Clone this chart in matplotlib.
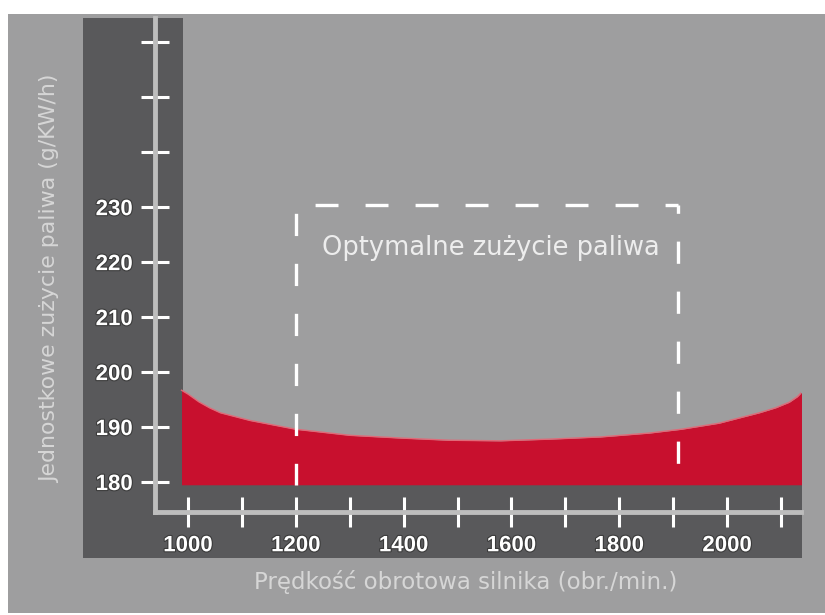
import matplotlib
matplotlib.use('Agg')
import matplotlib.pyplot as plt
from matplotlib.patches import Rectangle
import matplotlib.patheffects as pe

# Engine speed (rpm) and specific fuel consumption (g/kWh)
rpm = [988, 1000, 1020, 1040, 1060, 1115, 1200, 1300, 1395, 1485, 1580, 1670, 1765, 1855, 1915, 1985, 2060, 2090, 2115, 2130, 2139]
consumption = [196.7, 196.0, 194.6, 193.5, 192.6, 191.2, 189.6, 188.5, 188.0, 187.6, 187.5, 187.8, 188.2, 188.9, 189.6, 190.7, 192.6, 193.5, 194.5, 195.5, 196.4]
base_level = 179.5

# Optimal range box
opt_x = [1200, 1909]
opt_y = [179.5, 230.4]
opt_label = 'Optymalne zużycie paliwa'

# Ticks
x_ticks = [1000, 1100, 1200, 1300, 1400, 1500, 1600, 1700, 1800, 1900, 2000, 2100]
x_tick_labels = ['1000', '', '1200', '', '1400', '', '1600', '', '1800', '', '2000', '']
y_ticks = [180, 190, 200, 210, 220, 230, 240, 250, 260]
y_tick_labels = ['180', '190', '200', '210', '220', '230', '', '', '']

x_title = 'Prędkość obrotowa silnika (obr./min.)'
y_title = 'Jednostkowe zużycie paliwa (g/KW/h)'

bg_grey = '#9e9e9f'
dark_grey = '#59595b'
red = '#c8102e'
W, H = 825, 615

plt.rcParams['lines.scale_dashes'] = False

fig = plt.figure(figsize=(8.25, 6.15), dpi=100, facecolor='white')


def px_rect(x0, y0, x1, y1, color, z):
    # rectangle given in pixel coords (origin top-left)
    r = Rectangle((x0 / W, 1 - y1 / H), (x1 - x0) / W, (y1 - y0) / H,
                  transform=fig.transFigure, facecolor=color, edgecolor='none', zorder=z)
    fig.add_artist(r)


# background panels
px_rect(8, 14, 825, 613, bg_grey, -3)
px_rect(83, 18, 183, 558, dark_grey, -2)
px_rect(83, 485, 802, 558, dark_grey, -2)

ax = fig.add_axes([155 / W, 1 - 512 / H, (801 - 155) / W, (512 - 18) / H])
ax.patch.set_alpha(0)
ax.set_xlim(938.8, 2137)
ax.set_ylim(174.55, 264.4)

# red consumption area
ax.fill_between(rpm, consumption, base_level, color=red, linewidth=0, zorder=2)
ax.plot(rpm, consumption, color='#e06a78', linewidth=1.0, zorder=3)

# dashed optimal box
dash_kw = dict(color='white', linewidth=2.4, dash_capstyle='butt', zorder=4)
ax.plot([opt_x[1], opt_x[0]], [opt_y[1], opt_y[1]], linestyle=(7.2, (16.5, 19.5)), **dash_kw)
ax.plot([opt_x[1], opt_x[1]], [opt_y[1], opt_y[0]], linestyle=(10, (16, 20)), **dash_kw)
ax.plot([opt_x[0], opt_x[0]], [opt_y[1], opt_y[0]], linestyle=(30, (16, 20)), **dash_kw)
ax.text(1562, 222.5, opt_label, ha='center', va='center', color='#ededed',
        fontsize=18.5, family='DejaVu Sans', zorder=5)

# axes styling
for s in ['top', 'right']:
    ax.spines[s].set_visible(False)
for s in ['left', 'bottom']:
    ax.spines[s].set_color('#bdbdbd')
    ax.spines[s].set_linewidth(3.5)

shadow = [pe.withStroke(linewidth=1.6, foreground='#3a3a3a')]
ax.set_xticks(x_ticks)
ax.set_xticklabels(x_tick_labels, fontsize=16, fontweight='bold', color='white',
                   family='Liberation Sans', path_effects=shadow)
ax.set_yticks(y_ticks)
ax.set_yticklabels(y_tick_labels, fontsize=16, fontweight='bold', color='white',
                   family='Liberation Sans', path_effects=shadow)
ax.tick_params(axis='x', direction='inout', length=21.5, width=2.2, color='white', pad=6)
ax.tick_params(axis='y', direction='inout', length=20, width=2.2, color='white', pad=6)

fig.text(466 / W, 1 - 582 / H, x_title, ha='center', va='center', color='#d6d6d6',
         fontsize=16.5, family='DejaVu Sans')
fig.text(50 / W, 1 - 279 / H, y_title, ha='center', va='center', rotation=90,
         color='#d6d6d6', fontsize=15.8, family='DejaVu Sans')

fig.savefig('out.png', dpi=100, facecolor='white')
